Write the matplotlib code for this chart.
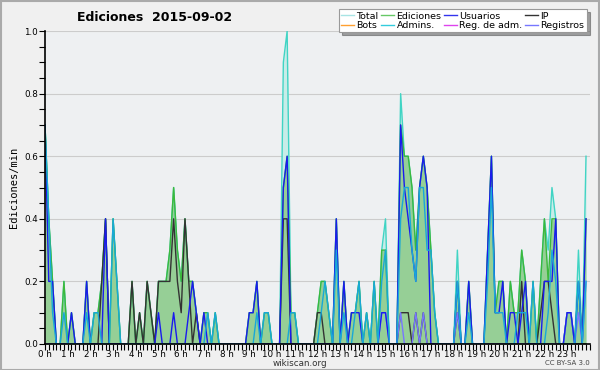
import numpy as np
import matplotlib
matplotlib.use("Agg")
import matplotlib.pyplot as plt
from matplotlib.lines import Line2D
from matplotlib.ticker import MultipleLocator, FormatStrFormatter

# actions per 10-minute slot, 144 slots for the day
total = [7, 4, 2, 0, 0, 2,  0, 1, 0, 0, 0, 2,  0, 1, 1, 2, 4, 0,  4, 2, 0, 0, 0, 2,
         0, 1, 0, 2, 1, 0,  2, 2, 2, 3, 5, 3,  2, 4, 2, 2, 1, 0,  1, 1, 0, 1, 0, 0,
         0, 0, 0, 0, 0, 0,  1, 1, 2, 0, 1, 1,  0, 0, 0, 9, 10, 1,  1, 0, 0, 0, 0, 0,
         1, 2, 2, 1, 0, 4,  0, 2, 0, 1, 1, 2,  0, 1, 0, 2, 0, 3,  4, 0, 0, 0, 8, 6,
         6, 5, 3, 5, 6, 5,  3, 1, 0, 0, 0, 0,  0, 3, 0, 0, 2, 0,  0, 0, 0, 3, 6, 1,
         2, 2, 0, 2, 1, 1,  3, 2, 0, 2, 0, 2,  4, 3, 5, 4, 0, 0,  1, 1, 0, 3, 0, 6]
ediciones = [7, 4, 2, 0, 0, 2,  0, 1, 0, 0, 0, 2,  0, 1, 1, 2, 4, 0,  4, 2, 0, 0, 0, 2,
             0, 1, 0, 2, 1, 0,  2, 2, 2, 3, 5, 3,  2, 4, 2, 2, 1, 0,  1, 1, 0, 1, 0, 0,
             0, 0, 0, 0, 0, 0,  1, 1, 2, 0, 1, 1,  0, 0, 0, 5, 6, 1,  1, 0, 0, 0, 0, 0,
             1, 2, 2, 1, 0, 4,  0, 2, 0, 1, 1, 2,  0, 1, 0, 2, 0, 3,  3, 0, 0, 0, 7, 6,
             6, 5, 3, 5, 6, 5,  3, 1, 0, 0, 0, 0,  0, 2, 0, 0, 2, 0,  0, 0, 0, 3, 6, 1,
             2, 2, 0, 2, 1, 1,  3, 2, 0, 2, 0, 2,  4, 2, 4, 4, 0, 0,  1, 1, 0, 2, 0, 4]
usuarios = [7, 2, 2, 0, 0, 0,  0, 1, 0, 0, 0, 2,  0, 0, 0, 0, 4, 0,  0, 0, 0, 0, 0, 0,
            0, 0, 0, 0, 0, 0,  1, 0, 0, 0, 1, 0,  0, 0, 1, 2, 1, 0,  1, 0, 0, 0, 0, 0,
            0, 0, 0, 0, 0, 0,  1, 1, 2, 0, 0, 0,  0, 0, 0, 5, 6, 0,  0, 0, 0, 0, 0, 0,
            0, 0, 0, 0, 0, 4,  0, 2, 0, 1, 1, 1,  0, 0, 0, 0, 0, 1,  1, 0, 0, 0, 7, 5,
            4, 3, 2, 5, 6, 5,  0, 0, 0, 0, 0, 0,  0, 2, 0, 0, 2, 0,  0, 0, 0, 3, 6, 1,
            1, 2, 0, 1, 1, 0,  1, 2, 0, 0, 0, 0,  2, 2, 2, 4, 0, 0,  1, 1, 0, 2, 0, 4]
ip = [0, 0, 0, 0, 0, 0,  0, 0, 0, 0, 0, 0,  0, 0, 0, 2, 4, 0,  0, 0, 0, 0, 0, 2,
      0, 1, 0, 2, 1, 0,  2, 2, 2, 2, 4, 2,  1, 4, 2, 0, 1, 0,  0, 0, 0, 0, 0, 0,
      0, 0, 0, 0, 0, 0,  0, 0, 0, 0, 0, 0,  0, 0, 0, 4, 4, 0,  0, 0, 0, 0, 0, 0,
      1, 1, 0, 0, 0, 0,  0, 0, 0, 0, 0, 0,  0, 0, 0, 0, 0, 0,  0, 0, 0, 0, 1, 1,
      1, 0, 1, 0, 1, 0,  0, 0, 0, 0, 0, 0,  0, 1, 0, 0, 0, 0,  0, 0, 0, 0, 0, 0,
      0, 0, 0, 0, 0, 0,  2, 0, 0, 0, 0, 1,  2, 2, 1, 0, 0, 0,  0, 0, 0, 0, 0, 0]
admins = [7, 4, 1, 0, 0, 1,  0, 0, 0, 0, 0, 1,  0, 1, 1, 0, 0, 0,  4, 2, 0, 0, 0, 0,
          0, 0, 0, 0, 0, 0,  0, 0, 0, 0, 0, 0,  0, 0, 0, 0, 0, 0,  0, 1, 0, 1, 0, 0,
          0, 0, 0, 0, 0, 0,  0, 0, 1, 0, 1, 1,  0, 0, 0, 0, 0, 1,  1, 0, 0, 0, 0, 0,
          0, 1, 2, 1, 0, 3,  0, 1, 0, 0, 1, 2,  0, 1, 0, 2, 0, 2,  3, 0, 0, 0, 4, 5,
          5, 3, 2, 5, 5, 3,  3, 1, 0, 0, 0, 0,  0, 2, 0, 0, 1, 0,  0, 0, 0, 2, 5, 1,
          1, 1, 0, 0, 0, 1,  1, 1, 0, 2, 0, 0,  0, 1, 3, 2, 0, 0,  0, 0, 0, 2, 0, 2]
registros = [0, 0, 0, 0, 0, 0,  0, 0, 0, 0, 0, 0,  0, 0, 0, 0, 0, 0,  0, 0, 0, 0, 0, 0,
             0, 0, 0, 0, 0, 0,  0, 0, 0, 0, 0, 0,  0, 0, 0, 0, 0, 0,  0, 0, 0, 0, 0, 0,
             0, 0, 0, 0, 0, 0,  0, 0, 0, 0, 0, 0,  0, 0, 0, 0, 0, 0,  0, 0, 0, 0, 0, 0,
             0, 0, 0, 0, 0, 0,  0, 0, 0, 0, 0, 0,  0, 0, 0, 0, 0, 1,  1, 0, 0, 0, 1, 0,
             0, 0, 1, 0, 1, 0,  0, 0, 0, 0, 0, 0,  0, 1, 0, 0, 0, 0,  0, 0, 0, 0, 0, 0,
             0, 0, 0, 0, 0, 0,  0, 0, 0, 0, 0, 0,  0, 0, 0, 0, 0, 0,  1, 1, 0, 1, 0, 2]

hour_labels = [f"{h} h" for h in range(24)]
legend_names = ["Total", "Bots", "Ediciones", "Admins.", "Usuarios", "Reg. de adm.", "IP", "Registros"]
legend_colors = ["#a8e4e4", "#ffa030", "#66c866", "#33ccdd", "#3333ee", "#dd44ee", "#333333", "#7777ff"]

x = np.arange(len(total)) / 6.0
per_min = lambda s: np.array(s) / 10.0

fig = plt.figure(figsize=(6, 3.7), dpi=100, facecolor="#f0f0f0")
ax = fig.add_axes([0.075, 0.0703, 0.908, 0.8457], facecolor="#eef0f2")

ax.fill_between(x, per_min(total), color="#c8ece8", lw=0)
ax.fill_between(x, per_min(ediciones), color="#96cf96", lw=0)
ax.plot(x, per_min(total), color="#40d4c4", lw=1)
ax.plot(x, per_min(ediciones), color="#3cb83c", lw=1)
ax.plot(x, per_min(ip), color="#333333", lw=1)
ax.plot(x, per_min(registros), color="#7777ff", lw=1)
ax.plot(x, per_min(usuarios), color="#1a1aee", lw=1)
ax.plot(x, per_min(admins), color="#18a8d8", lw=1)

ax.set_xlim(0, 24)
ax.set_ylim(0, 1.0)
ax.set_xticks(range(24))
ax.set_xticklabels(hour_labels, fontsize=6.3)
ax.xaxis.set_minor_locator(MultipleLocator(1 / 6))
ax.yaxis.set_major_locator(MultipleLocator(0.2))
ax.yaxis.set_minor_locator(MultipleLocator(0.05))
ax.yaxis.set_major_formatter(FormatStrFormatter("%.1f"))
ax.tick_params(axis="y", labelsize=6.3)
ax.tick_params(which="both", direction="out", length=4, width=0.8, pad=1)
ax.tick_params(axis="x", which="major", pad=0)
ax.grid(axis="y", color="#cccccc", lw=0.8)
ax.set_axisbelow(True)
for side in ["top", "right"]:
    ax.spines[side].set_visible(False)
ax.spines["left"].set_linewidth(1.2)
ax.spines["bottom"].set_linewidth(1.2)

ax.set_ylabel("Ediciones/min", fontsize=7.5, family="DejaVu Sans Mono", labelpad=4)
fig.text(0.258, 0.953, "Ediciones  2015-09-02", fontsize=9, fontweight="bold",
         ha="center", va="center")

handles = [Line2D([], [], color=c, lw=1) for c in legend_colors]
leg = fig.legend(handles, legend_names, ncol=4, loc="upper right",
                 bbox_to_anchor=(0.978, 0.975), fontsize=6.8, frameon=True,
                 fancybox=False, shadow=True, handlelength=1.3, handletextpad=0.3,
                 columnspacing=0.3, labelspacing=0.05, borderpad=0.25,
                 borderaxespad=0)
leg.get_frame().set_edgecolor("#999999")
leg.get_frame().set_linewidth(0.8)

fig.text(0.5, 0.018, "wikiscan.org", fontsize=6.3, ha="center", va="center", color="#333333")
fig.text(0.983, 0.02, "CC BY-SA 3.0", fontsize=5, ha="right", va="center", color="#444444")

border = plt.Rectangle((0.001, 0.001), 0.997, 0.997, transform=fig.transFigure,
                       fill=False, edgecolor="#aaaaaa", lw=1.5)
fig.patches.append(border)

fig.savefig("out.png", dpi=100, facecolor=fig.get_facecolor())
